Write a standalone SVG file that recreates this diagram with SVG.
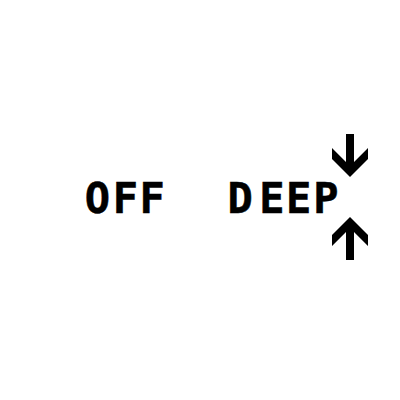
<svg xmlns="http://www.w3.org/2000/svg" width="400" height="400" viewBox="0 0 400 400">
<style>
.lbl{font-family:"DejaVu Sans Mono",monospace;font-weight:bold;font-size:42px;fill:#000;stroke:#000;stroke-width:0.5px}
.arr{fill:#000}
</style>
<rect width="400" height="400" fill="#fff"/>
<g id="off"><text class="lbl" x="84.7 112.7 139.4" y="213">OFF</text></g>
<g id="deep"><text class="lbl" x="227.5 259.2 285.9 313.3" y="213">DEEP</text></g>
<g id="connectors">
<polygon class="arr" points="346,134 354,134 354,162 368,148 368,159 350,177 332,159 332,148 346,162"/>
<polygon class="arr" points="350,217 368,235 368,246 354,232 354,260 346,260 346,232 332,246 332,235"/>
</g>
</svg>
